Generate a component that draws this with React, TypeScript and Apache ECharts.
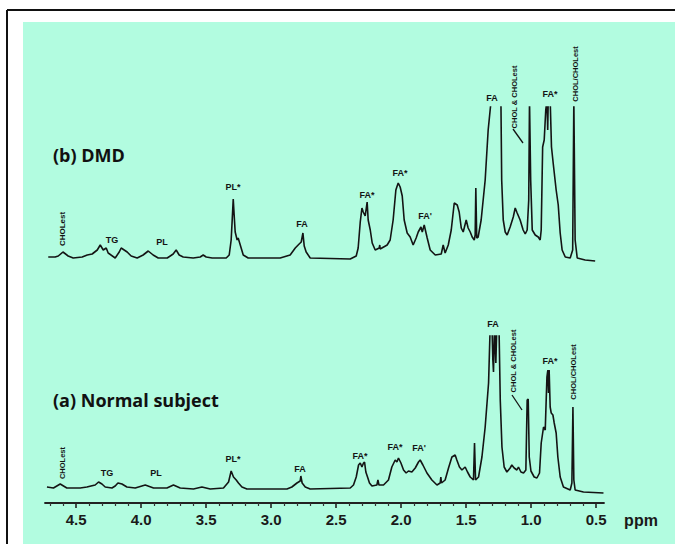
import React, { useEffect, useRef } from "react";
import * as echarts from "echarts";

// DMD spectrum (b): [chemical shift ppm, relative intensity]
const dmdSpectrum: [number, number][] = [
  [4.715,3],[4.662,3],[4.638,4],[4.602,8],[4.562,4],[4.523,2],[4.454,3],[4.415,5],[4.377,6],[4.338,10],
  [4.315,15],[4.292,10],[4.269,12],[4.254,7],[4.2,2],[4.169,8],[4.154,12],[4.131,10],[4.108,8],[4.077,4],
  [4.031,2],[3.985,5],[3.946,9],[3.908,5],[3.869,2],[3.8,2],[3.754,6],[3.731,10],[3.708,5],[3.677,3],
  [3.6,2],[3.546,3],[3.523,5],[3.5,3],[3.454,2],[3.346,2],[3.323,5],[3.308,20],[3.3,40],[3.292,61],
  [3.285,45],[3.277,28],[3.262,20],[3.254,22],[3.238,15],[3.215,5],[3.177,2],[2.931,2],[2.854,5],[2.815,12],
  [2.785,16],[2.769,18],[2.756,27],[2.746,14],[2.731,8],[2.7,2],[2.392,1],[2.346,4],[2.331,12],[2.315,38],
  [2.302,52],[2.292,48],[2.277,44],[2.262,58],[2.254,40],[2.238,30],[2.223,17],[2.2,10],[2.169,12],[2.165,15],
  [2.162,11],[2.108,15],[2.085,20],[2.062,40],[2.041,70],[2.031,74],[2.023,77],[2.008,73],[1.992,64],[1.977,40],
  [1.954,27],[1.931,23],[1.908,15],[1.885,22],[1.869,28],[1.848,33],[1.838,28],[1.823,35],[1.8,22],[1.777,10],
  [1.738,5],[1.692,6],[1.677,15],[1.662,7],[1.638,15],[1.615,30],[1.592,57],[1.569,55],[1.554,48],[1.538,32],
  [1.523,28],[1.5,40],[1.485,32],[1.469,28],[1.454,23],[1.438,20],[1.431,25],[1.426,72],[1.419,22],[1.408,23],
  [1.385,40],[1.354,80],[1.331,130],[1.308,160],[1.273,220],[1.233,160],[1.227,80],[1.215,40],[1.2,28],[1.185,25],
  [1.162,33],[1.138,43],[1.123,52],[1.108,47],[1.085,40],[1.062,30],[1.046,26],[1.031,30],[1.019,60],[1.013,160],
  [1.004,80],[0.992,30],[0.969,25],[0.946,23],[0.931,20],[0.923,30],[0.912,113],[0.9,120],[0.888,150],[0.879,160],
  [0.873,130],[0.869,160],[0.862,160],[0.854,160],[0.844,113],[0.831,97],[0.808,70],[0.792,55],[0.777,27],[0.762,10],
  [0.738,3],[0.7,2],[0.681,10],[0.672,160],[0.662,20],[0.646,2],[0.585,0],[0.508,-1]
];

// Normal subject spectrum (a): [chemical shift ppm, relative intensity]
const normalSpectrum: [number, number][] = [
  [4.725,2],[4.675,1],[4.623,5],[4.572,1],[4.469,1],[4.418,2],[4.354,4],[4.328,7],[4.302,5],[4.277,2],
  [4.225,1],[4.2,3],[4.179,6],[4.148,5],[4.11,2],[4.046,1],[3.969,4],[3.905,1],[3.802,1],[3.752,4],
  [3.7,1],[3.598,0],[3.533,2],[3.469,0],[3.367,1],[3.328,7],[3.308,18],[3.29,12],[3.269,9],[3.252,6],
  [3.225,2],[3.187,0],[2.879,0],[2.841,2],[2.802,6],[2.777,8],[2.772,13],[2.762,6],[2.738,2],[2.7,0],
  [2.392,1],[2.367,4],[2.346,12],[2.328,24],[2.315,26],[2.302,22],[2.29,26],[2.282,27],[2.272,17],[2.259,12],
  [2.244,6],[2.225,3],[2.187,4],[2.179,9],[2.171,4],[2.136,4],[2.098,9],[2.072,22],[2.046,29],[2.033,27],
  [2.021,31],[2.002,26],[1.982,19],[1.962,16],[1.944,18],[1.918,17],[1.892,21],[1.867,27],[1.854,29],[1.833,24],
  [1.802,16],[1.764,9],[1.725,4],[1.7,6],[1.695,12],[1.69,6],[1.662,9],[1.636,21],[1.61,32],[1.585,34],
  [1.572,29],[1.552,22],[1.533,19],[1.508,22],[1.49,17],[1.469,12],[1.444,9],[1.436,46],[1.428,9],[1.405,12],
  [1.379,32],[1.354,62],[1.328,106],[1.315,165],[1.302,165],[1.295,129],[1.29,117],[1.282,165],[1.272,126],[1.264,165],
  [1.248,165],[1.238,89],[1.225,42],[1.208,22],[1.187,17],[1.162,21],[1.149,24],[1.131,21],[1.11,19],[1.098,22],
  [1.079,17],[1.059,16],[1.041,19],[1.031,89],[1.023,90],[1.015,32],[1.002,18],[0.977,12],[0.956,11],[0.936,16],
  [0.923,46],[0.905,62],[0.892,59],[0.879,112],[0.872,119],[0.867,96],[0.862,119],[0.854,82],[0.846,76],[0.833,74],
  [0.823,66],[0.808,56],[0.795,32],[0.777,12],[0.752,2],[0.7,-1],[0.687,6],[0.679,82],[0.672,9],[0.662,-1],
  [0.598,-3],[0.444,-4]
];

const majorTicks = [0.5, 1.0, 1.5, 2.0, 2.5, 3.0, 3.5, 4.0, 4.5];
const minorTicks = [0.6,0.7,0.8,0.9,1.1,1.2,1.3,1.4,1.6,1.7,1.8,1.9,2.1,2.2,2.3,2.4,2.6,2.7,2.8,2.9,3.1,3.2,3.3,3.4,3.6,3.7,3.8,3.9,4.1,4.2,4.3,4.4,4.6,4.7];
const ppmRange = [0.44, 4.74];
const intensityRange = [-14, 153];

const LABEL_FONT = '"Liberation Sans", Arial, sans-serif';
const TITLE_FONT = '"Open Sans", "Noto Sans", sans-serif';
const INK = "#141414";

function hText(text: string, x: number, y: number, size = 9) {
  return {
    type: "text", x, y, z: 20,
    style: { text, fill: INK, font: `bold ${size}px ${LABEL_FONT}`, align: "center", verticalAlign: "middle" },
  };
}
function vText(text: string, x: number, y: number, size = 8) {
  return {
    type: "text", x, y, z: 20, rotation: Math.PI / 2,
    style: { text, fill: INK, font: `bold ${size}px ${LABEL_FONT}`, align: "center", verticalAlign: "middle" },
  };
}
function seg(x1: number, y1: number, x2: number, y2: number) {
  return { type: "line", z: 20, shape: { x1, y1, x2, y2 }, style: { stroke: INK, lineWidth: 1.3 } };
}

export default function App() {
  const ref = useRef<HTMLDivElement>(null);
  useEffect(() => {
    if (!ref.current) return;
    const chart = echarts.init(ref.current, undefined, { renderer: "svg" });
    const gridBase = { left: 45, width: 559, height: 167 };
    const yBase = { type: "value", min: intensityRange[0], max: intensityRange[1], show: false };
    const xBase = { type: "value", min: ppmRange[0], max: ppmRange[1], inverse: true };
    chart.setOption({
      animation: false,
      backgroundColor: "#ffffff",
      grid: [
        { ...gridBase, top: 107 },
        { ...gridBase, top: 336 },
      ],
      xAxis: [
        { ...xBase, gridIndex: 0, show: false },
        {
          ...xBase, gridIndex: 1, position: "bottom",
          axisLine: { show: true, onZero: false, lineStyle: { color: "#222", width: 1.8 } },
          axisTick: { show: true, customValues: majorTicks, length: 5, lineStyle: { color: "#222", width: 1.6 } },
          axisLabel: {
            show: true, customValues: majorTicks, margin: 9,
            formatter: (v: number) => v.toFixed(1),
            color: "#1a1a1a", fontSize: 15, fontWeight: "bold", fontFamily: LABEL_FONT,
          },
          splitLine: { show: false },
        },
        {
          ...xBase, gridIndex: 1, position: "bottom", offset: 0,
          axisLine: { show: false, onZero: false },
          axisTick: { show: true, customValues: minorTicks, length: 3, lineStyle: { color: "#333", width: 1.2 } },
          axisLabel: { show: false },
          splitLine: { show: false },
        },
      ],
      yAxis: [
        { ...yBase, gridIndex: 0 },
        { ...yBase, gridIndex: 1 },
      ],
      series: [
        {
          type: "line", xAxisIndex: 0, yAxisIndex: 0, data: dmdSpectrum, showSymbol: false, clip: true,
          lineStyle: { color: INK, width: 1.6 }, silent: true,
        },
        {
          type: "line", xAxisIndex: 1, yAxisIndex: 1, data: normalSpectrum, showSymbol: false, clip: true,
          lineStyle: { color: INK, width: 1.6 }, silent: true,
        },
      ],
      graphic: [
        { type: "rect", z: -10, shape: { x: 23, y: 22, width: 660, height: 530 }, style: { fill: "#b2fce0" } },
        { type: "line", z: -5, shape: { x1: 7, y1: 10, x2: 680, y2: 10 }, style: { stroke: "#111", lineWidth: 2 } },
        { type: "line", z: -5, shape: { x1: 7, y1: 10, x2: 7, y2: 550 }, style: { stroke: "#111", lineWidth: 2 } },
        {
          type: "text", x: 53, y: 155, z: 20,
          style: { text: "(b) DMD", fill: "#111", font: `bold 18px ${TITLE_FONT}`, verticalAlign: "middle" },
        },
        {
          type: "text", x: 53, y: 400, z: 20,
          style: { text: "(a) Normal subject", fill: "#111", font: `bold 18px ${TITLE_FONT}`, verticalAlign: "middle" },
        },
        {
          type: "text", x: 641, y: 520, z: 20,
          style: { text: "ppm", fill: "#1a1a1a", font: `bold 16px ${LABEL_FONT}`, align: "center", verticalAlign: "middle" },
        },
        // DMD annotations
        vText("CHOLest", 62, 229, 8),
        hText("TG", 112, 240),
        hText("PL", 162, 242),
        hText("PL*", 233, 187),
        hText("FA", 302, 224),
        hText("FA*", 367, 195),
        hText("FA*", 400, 173),
        hText("FA'", 425, 216),
        hText("FA", 492, 98),
        vText("CHOL & CHOLest", 514, 97, 7.5),
        seg(513, 129, 523, 143),
        hText("FA*", 550, 94),
        vText("CHOL/CHOLest", 575, 74, 7.5),
        // Normal annotations
        vText("CHOLest", 62, 463, 7.5),
        hText("TG", 107, 473),
        hText("PL", 156, 473),
        hText("PL*", 233, 459),
        hText("FA", 300, 469),
        hText("FA*", 360, 456),
        hText("FA*", 395, 447),
        hText("FA'", 419, 448),
        hText("FA", 493, 324),
        vText("CHOL & CHOLest", 513, 361, 7.5),
        seg(512, 395, 522, 410),
        hText("FA*", 550, 361),
        vText("CHOL/CHOLest", 573, 372, 7.5),
      ],
    });
    return () => chart.dispose();
  }, []);
  return (
    <div
      ref={ref}
      style={{ position: "absolute", left: 0, top: 0, width: 675, height: 544 }}
    />
  );
}
